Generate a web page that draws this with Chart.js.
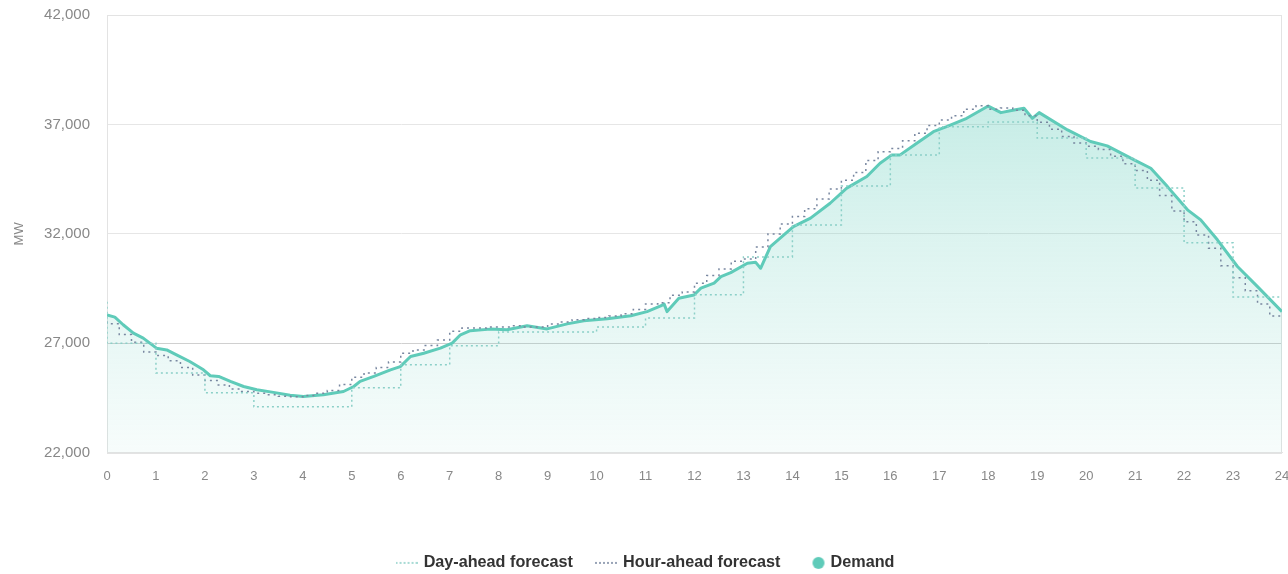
<!DOCTYPE html>
<html>
<head>
<meta charset="utf-8">
<script src="https://cdn.jsdelivr.net/npm/chart.js@4/dist/chart.umd.min.js"></script>
<style>
  html, body { margin: 0; padding: 0; background: #ffffff; }
  #wrap { width: 1288px; height: 574px; position: relative; }
</style>
</head>
<body>
<div id="wrap"><canvas id="c"></canvas></div>
<script>
// ---- data ----
const seriesNames = ['Day-ahead forecast', 'Hour-ahead forecast', 'Demand'];
const yTicks = [22000, 27000, 32000, 37000, 42000];

// Day-ahead forecast: one value per hour (value shown for the hour ending at that mark)
const dayAheadHours = [0,1,2,3,4,5,6,7,8,9,10,11,12,13,14,15,16,17,18,19,20,21,22,23,24];
const dayAheadMW = [28900,27000,25650,24740,24100,24100,24970,26020,26890,27520,27520,27750,28160,29220,30950,32410,34190,35610,36890,37110,36380,35470,34100,31590,29120];

// Hour-ahead forecast: one value per quarter hour (value shown for the quarter ending at that mark)
const hourAheadMW = [
  28000,27900,27400,27050,26600,26450,26200,25900,
  25550,25300,25100,24920,24800,24720,24650,24580,
  24560,24620,24720,24850,25120,25450,25650,25900,
  26150,26550,26700,26900,27150,27550,27700,27700,
  27750,27750,27800,27750,27750,27880,27980,28080,
  28130,28180,28250,28350,28550,28800,28850,29200,
  29350,29750,30100,30400,30750,30850,31400,32000,
  32450,32800,33150,33600,34050,34450,34800,35350,
  35750,35900,36250,36600,36950,37200,37400,37700,
  37850,37700,37750,37650,37400,37100,36780,36450,
  36150,36000,35850,35550,35200,34900,34450,33750,
  33050,32550,31950,31350,30550,30000,29400,28800,
  28250
];
const hourAheadHours = hourAheadMW.map((_, i) => i / 4);

// Demand: readings along the curve
const demandHours = [0,0.16,0.33,0.54,0.74,1.01,1.22,1.42,1.69,1.97,2.11,2.28,2.52,2.79,3.06,3.4,3.74,4.01,4.42,4.83,5.04,5.17,5.45,5.79,5.99,6.2,6.47,6.81,7.05,7.22,7.42,7.83,8.17,8.58,8.99,9.4,9.74,10.22,10.7,11.03,11.31,11.38,11.44,11.68,11.99,12.13,12.4,12.54,12.74,13.08,13.25,13.35,13.55,14.02,14.37,14.77,15.11,15.52,15.79,16.03,16.2,16.54,16.88,17.15,17.56,18.0,18.26,18.5,18.73,18.9,19.04,19.62,20.09,20.43,20.98,21.32,21.66,22.07,22.34,22.68,23.09,23.5,24];
const demandMW = [28300,28200,27850,27470,27240,26780,26700,26470,26170,25790,25520,25490,25260,25030,24880,24760,24630,24570,24650,24800,25030,25260,25490,25790,25940,26400,26550,26780,27010,27390,27580,27650,27620,27800,27660,27890,28030,28120,28260,28450,28710,28790,28450,29060,29210,29520,29750,30050,30230,30660,30700,30430,31420,32330,32720,33400,34090,34620,35230,35610,35610,36140,36670,36900,37280,37840,37540,37650,37740,37280,37540,36750,36220,36020,35380,35000,34160,33100,32640,31730,30510,29590,28450];

// ---- styles ----
const TEAL = 'rgb(95,203,185)';
const DAY_COLOR = 'rgb(140,208,200)';
const HOUR_COLOR = 'rgb(120,135,160)';

function pts(xs, ys) { return xs.map((x, i) => ({ x: x, y: ys[i] })); }

function lineIcon(color) {
  const c = document.createElement('canvas');
  c.width = 22; c.height = 4;
  const g = c.getContext('2d');
  g.strokeStyle = color; g.lineWidth = 1.5; g.setLineDash([2, 2]);
  g.beginPath(); g.moveTo(0, 2); g.lineTo(22, 2); g.stroke();
  return c;
}
function dotIcon(color) {
  const c = document.createElement('canvas');
  c.width = 30; c.height = 14;
  const g = c.getContext('2d');
  g.fillStyle = color;
  g.beginPath(); g.arc(20, 7, 6, 0, Math.PI * 2); g.fill();
  return c;
}
const icons = [lineIcon(DAY_COLOR), lineIcon(HOUR_COLOR), dotIcon(TEAL)];

const frame = {
  id: 'frame',
  afterLayout(chart) {
    chart.legend.top += 7;
    chart.legend.bottom += 7;
    chart.legend.left += 5;
    chart.legend.right += 5;
  },
  beforeDatasetsDraw(chart) {
    const a = chart.chartArea, ctx = chart.ctx;
    ctx.save();
    ctx.strokeStyle = '#e3e3e3';
    ctx.lineWidth = 1;
    ctx.strokeRect(Math.round(a.left) + 0.5, Math.round(a.top) + 0.5, Math.round(a.right - a.left) - 1, Math.round(a.bottom - a.top));
    ctx.restore();
  }
};

new Chart(document.getElementById('c'), {
  type: 'line',
  data: {
    datasets: [
      {
        label: seriesNames[0],
        data: pts(dayAheadHours, dayAheadMW),
        borderColor: DAY_COLOR,
        borderWidth: 1.5,
        borderDash: [2, 3],
        stepped: 'after',
        pointRadius: 0,
        fill: false
      },
      {
        label: seriesNames[1],
        data: pts(hourAheadHours, hourAheadMW),
        borderColor: HOUR_COLOR,
        borderWidth: 1.5,
        borderDash: [2, 4],
        stepped: 'after',
        pointRadius: 0,
        fill: false
      },
      {
        label: seriesNames[2],
        data: pts(demandHours, demandMW),
        borderColor: TEAL,
        borderWidth: 3,
        borderJoinStyle: 'round',
        pointRadius: 0,
        tension: 0,
        fill: 'start',
        backgroundColor: (c) => {
          const a = c.chart.chartArea;
          if (!a) return 'rgba(95,203,185,0.2)';
          const g = c.chart.ctx.createLinearGradient(0, a.top, 0, a.bottom);
          g.addColorStop(0, 'rgba(95,203,185,0.45)');
          g.addColorStop(0.5, 'rgba(95,203,185,0.22)');
          g.addColorStop(1, 'rgba(95,203,185,0.05)');
          return g;
        }
      }
    ]
  },
  options: {
    responsive: true,
    maintainAspectRatio: false,
    animation: false,
    layout: { padding: { top: 15, right: 6, left: 0, bottom: 0 } },
    scales: {
      x: {
        type: 'linear',
        min: 0,
        max: 24,
        afterFit: (s) => { s.height = 71; s.paddingLeft = 0; s.paddingRight = 0; },
        grid: { display: false, drawTicks: false },
        border: { display: true, color: '#e3e3e3' },
        ticks: {
          stepSize: 1,
          padding: 16,
          color: '#888',
          font: { family: 'Liberation Sans, Arial, sans-serif', size: 13 },
          maxRotation: 0,
          autoSkip: false
        }
      },
      y: {
        min: 22000,
        max: 42000,
        afterFit: (s) => { s.width = 107; s.paddingTop = 0; s.paddingBottom = 0; },
        afterBuildTicks: (s) => { s.ticks = yTicks.map(v => ({ value: v })); },
        grid: {
          color: (c) => (c.tick && c.tick.value === 27000) ? '#d0d0d0' : '#e6e6e6',
          drawTicks: false
        },
        border: { display: true, color: '#e3e3e3' },
        ticks: {
          padding: 17,
          color: '#888',
          font: { family: 'Liberation Sans, Arial, sans-serif', size: 15 },
          callback: (v) => Number(v).toLocaleString('en-US')
        },
        title: {
          display: true,
          text: 'MW',
          color: '#888',
          padding: { top: 12, bottom: 0 },
          font: { family: 'Liberation Sans, Arial, sans-serif', size: 13 }
        }
      }
    },
    plugins: {
      tooltip: { enabled: false },
      legend: {
        position: 'bottom',
        labels: {
          usePointStyle: true,
          pointStyleWidth: 18,
          padding: 24,
          color: '#333',
          font: { family: 'Liberation Sans, Arial, sans-serif', size: 16.2, weight: 'bold' },
          generateLabels: (chart) => chart.data.datasets.map((ds, i) => ({
            text: ds.label,
            pointStyle: icons[i],
            fillStyle: 'rgba(0,0,0,0)',
            strokeStyle: 'rgba(0,0,0,0)',
            lineWidth: 0,
            fontColor: '#333',
            hidden: !chart.isDatasetVisible(i),
            datasetIndex: i
          }))
        }
      }
    }
  },
  plugins: [frame]
});
</script>
</body>
</html>
